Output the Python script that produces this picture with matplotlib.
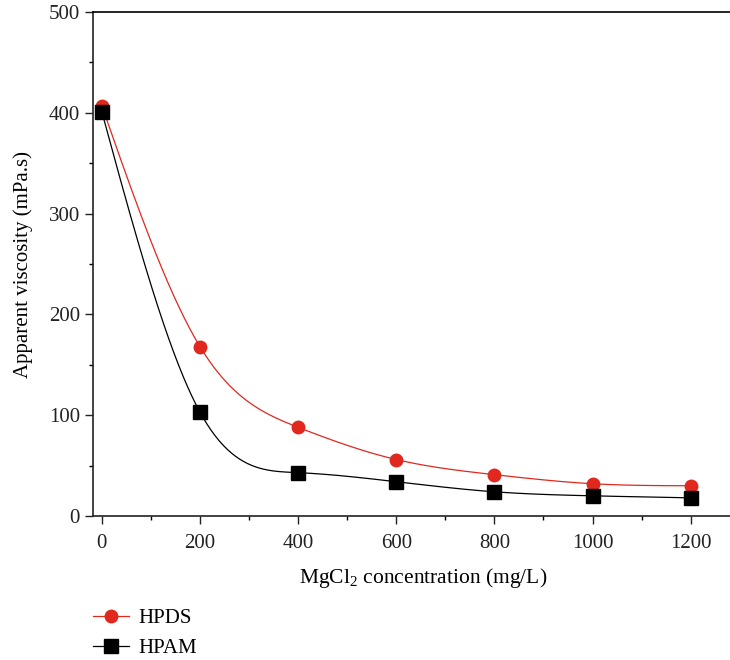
import numpy as np
import matplotlib.pyplot as plt

# values
conc = [0, 200, 400, 600, 800, 1000, 1200]
hpds = [407, 168, 88, 56, 41, 32, 30]
hpam = [401, 103, 43, 34, 24, 20, 18]
labels = ["HPDS", "HPAM"]


# natural cubic spline for the smooth connecting curves
def spline(x, y, xs):
    x = np.asarray(x, float)
    y = np.asarray(y, float)
    n = len(x)
    h = np.diff(x)
    A = np.zeros((n, n))
    r = np.zeros(n)
    A[0, 0] = A[-1, -1] = 1
    for i in range(1, n - 1):
        A[i, i - 1] = h[i - 1]
        A[i, i] = 2 * (h[i - 1] + h[i])
        A[i, i + 1] = h[i]
        r[i] = 6 * ((y[i + 1] - y[i]) / h[i] - (y[i] - y[i - 1]) / h[i - 1])
    M = np.linalg.solve(A, r)
    idx = np.clip(np.searchsorted(x, xs) - 1, 0, n - 2)
    a = x[idx + 1] - xs
    b = xs - x[idx]
    hh = h[idx]
    return (M[idx] * a**3 / (6 * hh) + M[idx + 1] * b**3 / (6 * hh)
            + (y[idx] / hh - M[idx] * hh / 6) * a
            + (y[idx + 1] / hh - M[idx + 1] * hh / 6) * b)


plt.rcParams['font.family'] = ['Liberation Serif', 'DejaVu Serif']
plt.rcParams['mathtext.fontset'] = 'custom'
plt.rcParams['mathtext.rm'] = 'Liberation Serif'

fig = plt.figure(figsize=(7.3, 6.6), dpi=100)
ax = fig.add_axes([0.1274, 0.2182, 0.886, 0.7636])

xs = np.linspace(0, 1200, 600)
red = '#e0281e'
ax.plot(xs, spline(conc, hpds, xs), color=red, lw=0.9)
ax.plot(xs, spline(conc, hpam, xs), color='black', lw=0.9)
ax.plot(conc, hpds, 'o', color=red, ms=9, ls='none')
ax.plot(conc, hpam, 's', color='black', ms=9.5, ls='none')

ax.set_xlim(-18, 1300)
ax.set_ylim(0, 500)
ax.set_xticks(range(0, 1201, 200))
ax.set_xticks(range(100, 1300, 200), minor=True)
ax.set_yticks(range(0, 501, 100))
ax.set_yticks(range(50, 500, 100), minor=True)
ax.tick_params(direction='out', labelsize=15, length=6, width=1.0, colors='#222222')
ax.tick_params(which='minor', direction='out', length=3, width=1.0)
ax.tick_params(axis='x', pad=7)
for s in ax.spines.values():
    s.set_linewidth(1.2)
    s.set_color('#222222')
ax.spines['top'].set_color('black')

ax.set_xlabel('MgCl$_2$ concentration (mg/L)', fontsize=15.5, labelpad=10)
ax.xaxis.set_label_coords(0.51, -0.1)
ax.set_ylabel('Apparent viscosity (mPa.s)', fontsize=15, labelpad=11)

h1 = plt.Line2D([], [], color=red, lw=0.9, marker='o', ms=9)
h2 = plt.Line2D([], [], color='black', lw=0.9, marker='s', ms=9.5)
fig.legend([h1, h2], labels, loc='lower left', bbox_to_anchor=(0.102, -0.026),
           frameon=False, fontsize=15, handlelength=1.7, labelspacing=0.5,
           handletextpad=0.45)

fig.savefig('out.png', dpi=100)
